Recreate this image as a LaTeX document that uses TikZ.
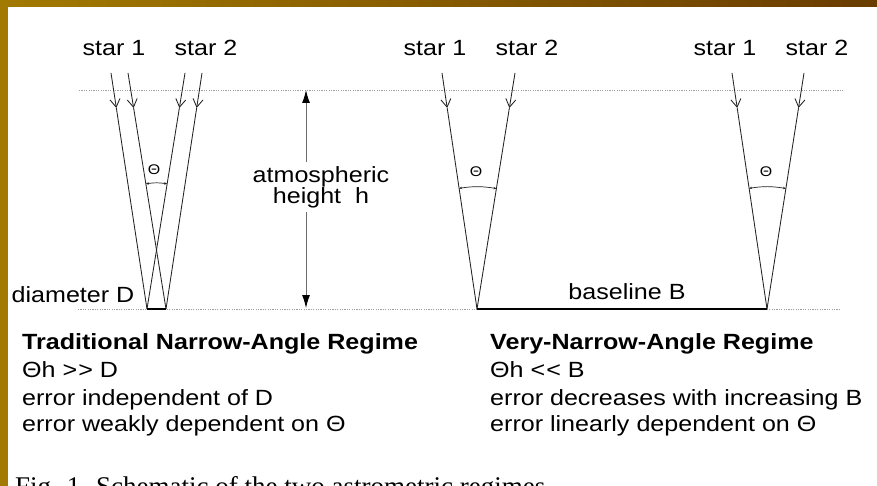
\documentclass[tikz,border=0pt]{standalone}
\usepackage{fontspec}
\setmainfont{Liberation Sans}[FakeStretch=1.14]
\newfontfamily\capfont{Liberation Serif}
\usetikzlibrary{arrows.meta,calc}
\definecolor{goldL}{RGB}{162,122,0}
\definecolor{goldR}{RGB}{105,60,0}
\definecolor{ink}{RGB}{35,35,35}
\newcommand\starray[2]{%
  \draw[tipray] (#1) -- ($(#1)!0.148!(#2)$);
  \draw[ray] ($(#1)!0.148!(#2)$) -- (#2);}
\begin{document}
\begin{tikzpicture}[x=1pt,y=-1pt,
  lbl/.style={font=\fontsize{22}{21}\selectfont, inner sep=0pt},
  ray/.style={draw=ink, line width=0.85pt},
  tipray/.style={ray, -{Straight Barb[length=8pt,width=10pt]}},
  dotline/.style={draw=gray!75, line width=0.6pt, dash pattern=on 1.2pt off 1.2pt},
  thk/.style={draw=black, line width=2.6pt},
  thetaarc/.style={draw=ink, line width=0.7pt, {Stealth[length=3pt,width=2.5pt]}-{Stealth[length=3pt,width=2.5pt]}},
  thlab/.style={font=\fontsize{14}{14}\selectfont, inner sep=0pt},
  hline/.style={draw=gray!85!black, line width=1pt},
  txt/.style={anchor=base west, inner sep=0pt, font=\fontsize{22}{26}\selectfont},
  ttl/.style={anchor=base west, inner sep=0pt, font=\fontsize{22}{26}\selectfont\bfseries}]
\useasboundingbox (0,0) rectangle (877,486);
\shade[left color=goldL, right color=goldR] (0,0) rectangle (877,486);
\fill[white] (8,7) rectangle (877,486);

% horizon lines
\coordinate (topL) at (79,90);  \coordinate (topR) at (843,90);
\coordinate (botL) at (78,309); \coordinate (botR) at (840,309);
\draw[dotline] (topL) -- (topR);
\draw[dotline] (botL) -- (botR);

% ---------- left: traditional ----------
\node[lbl] (Ls1) at (114,48) {star 1};
\node[lbl] (Ls2) at (206,48) {star 2};
\coordinate (La1) at (111,73); \coordinate (La2) at (128,73);
\coordinate (Lb1) at (185,73); \coordinate (Lb2) at (202,73);
\coordinate (LDl) at (147,309); \coordinate (LDr) at (166,309);
\starray{La1}{LDl}
\starray{La2}{LDr}
\starray{Lb1}{LDl}
\starray{Lb2}{LDr}
\coordinate (LX) at ($(La2)!0.75!(LDr)$);
\draw[thetaarc] ($(LX)!67pt!(La2)$) to[bend left=9] ($(LX)!67pt!(Lb1)$);
\node[thlab] (Lth) at (154,170) {Θ};
\draw[thk] (LDl) -- (LDr);
\node[lbl] (diam) at (73,295) {diameter D};

% atmospheric height
\coordinate (hT) at (306,90); \coordinate (hB) at (306,308);
\node[lbl, align=center, inner sep=4pt] (hl) at (321,187) {atmospheric\\height\ \ h};
\draw[hline, -{Latex[length=13pt,width=8pt,color=black]}] (hl.north -| hT) -- (hT);
\draw[hline, -{Latex[length=13pt,width=8pt,color=black]}] (hl.south -| hB) -- (hB);

% ---------- middle ----------
\node[lbl] (Ms1) at (435,48) {star 1};
\node[lbl] (Ms2) at (527,48) {star 2};
\coordinate (Ma) at (442,73); \coordinate (Mb) at (515,73);
\coordinate (M0) at (477,309);
\starray{Ma}{M0}
\starray{Mb}{M0}
\draw[thetaarc] ($(M0)!122pt!(Ma)$) to[bend left=9] ($(M0)!122pt!(Mb)$);
\node[thlab] (Mth) at (476,172) {Θ};

% ---------- right ----------
\node[lbl] (Rs1) at (725,48) {star 1};
\node[lbl] (Rs2) at (817,48) {star 2};
\coordinate (Ra) at (732,73); \coordinate (Rb) at (804,73);
\coordinate (R0) at (767,309);
\starray{Ra}{R0}
\starray{Rb}{R0}
\draw[thetaarc] ($(R0)!122pt!(Ra)$) to[bend left=9] ($(R0)!122pt!(Rb)$);
\node[thlab] (Rth) at (766,172) {Θ};

\draw[thk] (M0) -- (R0);
\node[lbl] (bl) at (627,292) {baseline B};

% ---------- texts ----------
\node[ttl] (t1) at (22,349) {Traditional Narrow-Angle Regime};
\node[txt] (t2) at (22,377) {Θh {>}\kern1pt{>} D};
\node[txt] (t3) at (22,405) {error independent of D};
\node[txt] (t4) at (22,431) {error weakly dependent on Θ};

\node[ttl] (v1) at (490,349) {Very-Narrow-Angle Regime};
\node[txt] (v2) at (490,377) {Θh {<}\kern1pt{<} B};
\node[txt] (v3) at (490,405) {error decreases with increasing B};
\node[txt] (v4) at (490,431) {error linearly dependent on Θ};

% caption (cut off at the lower edge, as in the source)
\begin{scope}
\clip (8,7) rectangle (877,486);
\node[anchor=base west, inner sep=0pt, font=\capfont\fontsize{27}{27}\selectfont] (cap) at (15,495) {Fig. 1. Schematic of the two astrometric regimes};
\end{scope}
\end{tikzpicture}
\end{document}
